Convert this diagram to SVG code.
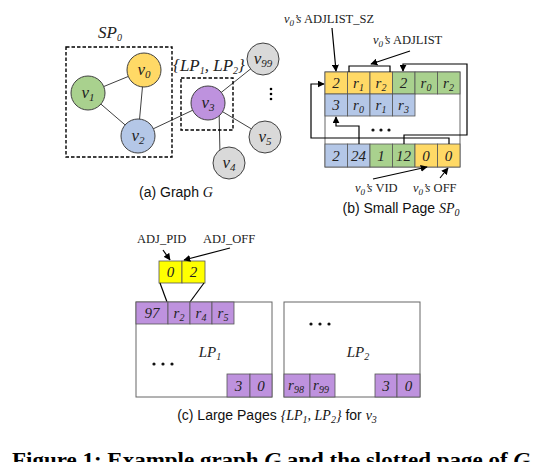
<svg xmlns="http://www.w3.org/2000/svg" width="534" height="462" viewBox="0 0 534 462">
<style>
.bg{fill:#fff}
.edge{stroke:#404040;stroke-width:1;fill:none}
.dash{fill:none;stroke:#000;stroke-width:1.4;stroke-dasharray:3.5,2}
.node{stroke:#404040;stroke-width:1}
.y{fill:#FFD966}.g{fill:#A9D18E}.b{fill:#B4C7E7}.p{fill:#BE92DE}.gr{fill:#D9D9D9}.yy{fill:#FFFF00}
.cell{stroke:#555;stroke-width:0.8}
.vl{font-family:"Liberation Serif",serif;font-style:italic;font-size:17px;fill:#222;text-anchor:middle}
.ct{font-family:"Liberation Serif",serif;font-style:italic;font-size:15px;fill:#222;text-anchor:middle}
.lab{font-family:"Liberation Serif",serif;font-size:12.5px;fill:#222}
.it{font-style:italic}
.cap{font-family:"Liberation Sans",Arial,sans-serif;font-size:14px;fill:#111;text-anchor:middle}
.ser{font-family:"Liberation Serif",serif;font-style:italic}
.arr{stroke:#000;stroke-width:1.2;fill:none;marker-end:url(#ah)}
.ln{stroke:#000;stroke-width:1.2;fill:none}
.page{fill:#fff;stroke:#666;stroke-width:1}
</style>
<defs>
<marker id="ah" viewBox="0 0 10 10" refX="9" refY="5" markerWidth="7" markerHeight="7" orient="auto" markerUnits="userSpaceOnUse"><path d="M0,0 L10,5 L0,10 z" fill="#000"/></marker>
</defs>
<rect class="bg" x="0" y="0" width="534" height="462"/>

<!-- (a) Graph G -->
<g id="connectors">
<line class="edge" x1="88" y1="93" x2="144" y2="70"/>
<line class="edge" x1="88" y1="93" x2="138" y2="136"/>
<line class="edge" x1="144" y1="70" x2="138" y2="136"/>
<line class="edge" x1="138" y1="136" x2="208" y2="103"/>
<line class="edge" x1="208" y1="103" x2="263" y2="59"/>
<line class="edge" x1="208" y1="103" x2="265" y2="137"/>
<line class="edge" x1="219" y1="108" x2="220" y2="155"/>
</g>
<g id="SP0-box">
<rect class="dash" x="66" y="47" width="106" height="110"/>
<text class="vl" x="110" y="38" font-size="15">SP<tspan font-size="10" dy="3">0</tspan></text>
</g>
<g id="LP-box">
<rect class="dash" x="181" y="78" width="52" height="52"/>
<text class="vl" x="209" y="71" font-size="15">{LP<tspan font-size="10" dy="3">1</tspan><tspan dy="-3">, LP</tspan><tspan font-size="10" dy="3">2</tspan><tspan dy="-3">}</tspan></text>
</g>
<g id="v0"><circle class="node y" cx="144" cy="70" r="17"/><text class="vl" x="144" y="75">v<tspan font-size="11" dy="3">0</tspan></text></g>
<g id="v1"><circle class="node g" cx="88" cy="93" r="17"/><text class="vl" x="88" y="98">v<tspan font-size="11" dy="3">1</tspan></text></g>
<g id="v2"><circle class="node b" cx="138" cy="136" r="17"/><text class="vl" x="138" y="141">v<tspan font-size="11" dy="3">2</tspan></text></g>
<g id="v3"><circle class="node p" cx="208" cy="103" r="17"/><text class="vl" x="208" y="108">v<tspan font-size="11" dy="3">3</tspan></text></g>
<g id="v99"><circle class="node gr" cx="263" cy="59" r="16"/><text class="vl" x="263" y="64">v<tspan font-size="11" dy="3">99</tspan></text></g>
<g id="v5"><circle class="node gr" cx="265" cy="137" r="16"/><text class="vl" x="265" y="142">v<tspan font-size="11" dy="3">5</tspan></text></g>
<g id="v4"><circle class="node gr" cx="229" cy="163" r="16"/><text class="vl" x="229" y="168">v<tspan font-size="11" dy="3">4</tspan></text></g>
<g id="vdots"><circle cx="271" cy="89" r="1.3"/><circle cx="271" cy="94" r="1.3"/><circle cx="271" cy="99" r="1.3"/></g>
<text class="cap" x="176" y="197">(a) Graph <tspan class="ser">G</tspan></text>

<!-- (b) Small Page -->
<g id="small-page">
<rect class="page" x="325" y="72" width="135" height="95"/>
<rect class="cell y" x="325" y="72" width="22.5" height="22"/>
<rect class="cell y" x="347.5" y="72" width="22.5" height="22"/>
<rect class="cell y" x="370" y="72" width="22.5" height="22"/>
<rect class="cell g" x="392.5" y="72" width="22.5" height="22"/>
<rect class="cell g" x="415" y="72" width="22.5" height="22"/>
<rect class="cell g" x="437.5" y="72" width="22.5" height="22"/>
<text class="ct" x="336" y="88">2</text>
<text class="ct" x="358.5" y="88">r<tspan font-size="10" dy="3">1</tspan></text>
<text class="ct" x="381" y="88">r<tspan font-size="10" dy="3">2</tspan></text>
<text class="ct" x="403.5" y="88">2</text>
<text class="ct" x="426" y="88">r<tspan font-size="10" dy="3">0</tspan></text>
<text class="ct" x="448.5" y="88">r<tspan font-size="10" dy="3">2</tspan></text>
<rect class="cell b" x="325" y="94" width="22.5" height="22"/>
<rect class="cell b" x="347.5" y="94" width="22.5" height="22"/>
<rect class="cell b" x="370" y="94" width="22.5" height="22"/>
<rect class="cell b" x="392.5" y="94" width="22.5" height="22"/>
<text class="ct" x="336" y="110">3</text>
<text class="ct" x="358.5" y="110">r<tspan font-size="10" dy="3">0</tspan></text>
<text class="ct" x="381" y="110">r<tspan font-size="10" dy="3">1</tspan></text>
<text class="ct" x="403.5" y="110">r<tspan font-size="10" dy="3">3</tspan></text>
<rect class="cell b" x="325" y="144" width="22.5" height="23"/>
<rect class="cell b" x="347.5" y="144" width="22.5" height="23"/>
<rect class="cell g" x="370" y="144" width="22.5" height="23"/>
<rect class="cell g" x="392.5" y="144" width="22.5" height="23"/>
<rect class="cell y" x="415" y="144" width="22.5" height="23"/>
<rect class="cell y" x="437.5" y="144" width="22.5" height="23"/>
<text class="ct" x="336" y="161">2</text>
<text class="ct" x="358.5" y="161">24</text>
<text class="ct" x="381" y="161">1</text>
<text class="ct" x="403.5" y="161">12</text>
<text class="ct" x="426" y="161">0</text>
<text class="ct" x="448.5" y="161">0</text>
<g fill="#111"><circle cx="373" cy="130" r="1.6"/><circle cx="381" cy="130" r="1.6"/><circle cx="389" cy="130" r="1.6"/></g>
</g>
<g id="small-page-links">
<path class="arr" d="M404,144 V135 H467 V64 H403 V71"/>
<path class="arr" d="M449,144 V138 H311 V84 H324"/>
<path class="arr" d="M359,144 V126 H336 V117"/>
<path class="ln" d="M349,72 V66 H390 V72" stroke="#666" stroke-width="1"/>
<line class="arr" x1="410" y1="51" x2="371" y2="64"/>
<line class="arr" x1="332" y1="28" x2="336" y2="71"/>
<line class="arr" x1="373" y1="179" x2="427" y2="167"/>
<line class="arr" x1="440" y1="178" x2="448" y2="168"/>
</g>
<text class="lab" x="284" y="23"><tspan class="it">v</tspan><tspan class="it" font-size="9" dy="3">0</tspan><tspan class="it" dy="-3">’s</tspan> ADJLIST_SZ</text>
<text class="lab" x="373" y="44"><tspan class="it">v</tspan><tspan class="it" font-size="9" dy="3">0</tspan><tspan class="it" dy="-3">’s</tspan> ADJLIST</text>
<text class="lab" x="355" y="192"><tspan class="it">v</tspan><tspan class="it" font-size="9" dy="3">0</tspan><tspan class="it" dy="-3">’s</tspan> VID</text>
<text class="lab" x="413" y="192"><tspan class="it">v</tspan><tspan class="it" font-size="9" dy="3">0</tspan><tspan class="it" dy="-3">’s</tspan> OFF</text>
<text class="cap" x="401" y="213">(b) Small Page <tspan class="ser">SP</tspan><tspan class="ser" font-size="10" dy="3">0</tspan></text>

<!-- (c) Large Pages -->
<g id="adj-entry">
<rect class="cell yy" x="159" y="261" width="23" height="22" stroke="#333"/>
<rect class="cell yy" x="182" y="261" width="23" height="22" stroke="#333"/>
<text class="ct" x="170.5" y="277">0</text>
<text class="ct" x="193.5" y="277">2</text>
<text class="lab" x="137" y="243">ADJ_PID</text>
<text class="lab" x="203" y="243">ADJ_OFF</text>
<line class="arr" x1="163" y1="250" x2="170" y2="260"/>
<line class="arr" x1="230" y1="248" x2="184" y2="260"/>
<line class="ln" x1="160" y1="283" x2="167" y2="302" stroke-width="1"/>
<line class="ln" x1="204" y1="283" x2="190" y2="302" stroke-width="1"/>
</g>
<g id="LP1">
<rect class="page" x="136" y="302" width="136" height="95"/>
<rect class="cell p" x="136" y="302" width="32" height="22"/>
<rect class="cell p" x="168" y="302" width="22" height="22"/>
<rect class="cell p" x="190" y="302" width="22" height="22"/>
<rect class="cell p" x="212" y="302" width="22" height="22"/>
<text class="ct" x="152" y="318">97</text>
<text class="ct" x="179" y="318">r<tspan font-size="10" dy="3">2</tspan></text>
<text class="ct" x="201" y="318">r<tspan font-size="10" dy="3">4</tspan></text>
<text class="ct" x="223" y="318">r<tspan font-size="10" dy="3">5</tspan></text>
<rect class="cell p" x="227" y="374" width="23" height="23"/>
<rect class="cell p" x="250" y="374" width="22" height="23"/>
<text class="ct" x="238.5" y="391">3</text>
<text class="ct" x="261" y="391">0</text>
<text class="ct" x="210" y="357">LP<tspan font-size="10" dy="3">1</tspan></text>
<g fill="#111"><circle cx="154" cy="364" r="1.6"/><circle cx="163" cy="364" r="1.6"/><circle cx="172" cy="364" r="1.6"/></g>
</g>
<g id="LP2">
<rect class="page" x="284" y="302" width="136" height="95"/>
<rect class="cell p" x="284" y="374" width="26" height="23"/>
<rect class="cell p" x="310" y="374" width="25" height="23"/>
<rect class="cell p" x="375" y="374" width="22" height="23"/>
<rect class="cell p" x="397" y="374" width="23" height="23"/>
<text class="ct" x="296" y="390">r<tspan font-size="10" dy="3">98</tspan></text>
<text class="ct" x="321" y="390">r<tspan font-size="10" dy="3">99</tspan></text>
<text class="ct" x="386" y="391">3</text>
<text class="ct" x="408.5" y="391">0</text>
<text class="ct" x="358" y="357">LP<tspan font-size="10" dy="3">2</tspan></text>
<g fill="#111"><circle cx="311" cy="324" r="1.6"/><circle cx="320" cy="324" r="1.6"/><circle cx="329" cy="324" r="1.6"/></g>
</g>
<text class="cap" x="277" y="420">(c) Large Pages <tspan class="ser">{LP</tspan><tspan class="ser" font-size="10" dy="3">1</tspan><tspan class="ser" dy="-3">, LP</tspan><tspan class="ser" font-size="10" dy="3">2</tspan><tspan class="ser" dy="-3">}</tspan> for <tspan class="ser">v</tspan><tspan class="ser" font-size="10" dy="3">3</tspan></text>

<text x="12" y="467" font-family="Liberation Serif,serif" font-weight="bold" font-size="20" fill="#000" textLength="518" lengthAdjust="spacingAndGlyphs">Figure 1: Example graph <tspan font-style="italic">G</tspan> and the slotted page of <tspan font-style="italic">G</tspan></text>
</svg>
